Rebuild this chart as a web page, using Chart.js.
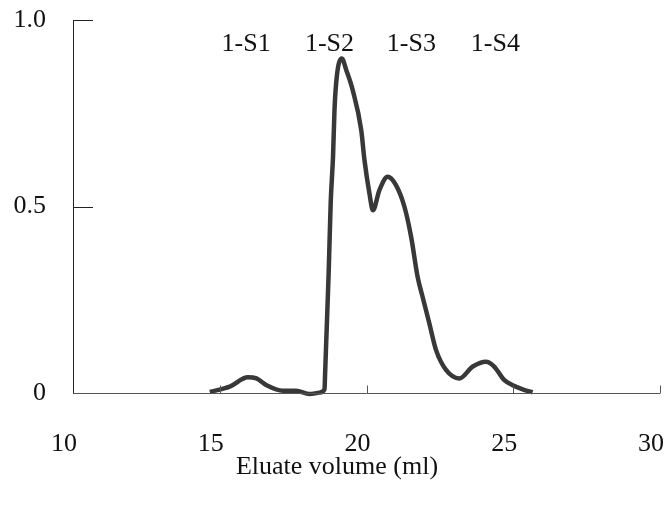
<!DOCTYPE html>
<html>
<head>
<meta charset="utf-8">
<script src="https://cdn.jsdelivr.net/npm/chart.js@4"></script>
<style>
  body { margin: 0; background: #fff; }
  canvas { display: block; }
</style>
</head>
<body>
<canvas id="chart" width="665" height="507"></canvas>
<script>
// Elution profile
const volume = [14.66, 15.34, 15.96, 16.25, 16.59, 17.15, 17.6, 18.06, 18.4, 18.57, 18.59, 18.63, 18.71, 18.78, 18.86, 18.91, 18.99, 19.16, 19.31, 19.53, 19.82, 19.93, 20.1, 20.22, 20.44, 20.72, 21.0, 21.29, 21.52, 21.74, 21.91, 22.14, 22.37, 22.71, 23.16, 23.62, 24.07, 24.35, 24.69, 24.98, 25.32, 25.66];
const absorbance = [0.003, 0.017, 0.042, 0.039, 0.021, 0.006, 0.006, -0.003, 0.001, 0.01, 0.053, 0.142, 0.32, 0.51, 0.635, 0.76, 0.85, 0.897, 0.866, 0.812, 0.705, 0.625, 0.535, 0.49, 0.544, 0.58, 0.558, 0.5, 0.419, 0.312, 0.258, 0.187, 0.115, 0.062, 0.039, 0.071, 0.084, 0.071, 0.035, 0.021, 0.01, 0.002];

const xTicks = [10, 15, 20, 25, 30];
const yTicks = [0, 0.5, 1.0];
const yTickLabels = ["0", "0.5", "1.0"];

const peakNames = ["1-S1", "1-S2", "1-S3", "1-S4"];
const peakX = [15.9, 18.74, 21.53, 24.39];
const peakY = 0.936;

const xTitle = "Eluate volume (ml)";

const FONT = "'Liberation Serif', 'Times New Roman', serif";
const FSIZE = 26;

// inner ticks, peak names and axis title
const extras = {
    id: "extras",
    afterDraw(chart) {
        const ctx = chart.ctx;
        const x = chart.scales.x;
        const y = chart.scales.y;
        const area = chart.chartArea;
        ctx.save();

        // y axis line and inner ticks
        ctx.strokeStyle = "#222";
        ctx.lineWidth = 1;
        ctx.beginPath();
        ctx.moveTo(area.left + 0.5, y.getPixelForValue(1.0));
        ctx.lineTo(area.left + 0.5, y.getPixelForValue(0));
        yTicks.forEach(v => {
            if (v === 0) return;
            const py = Math.round(y.getPixelForValue(v)) + 0.5;
            ctx.moveTo(area.left, py);
            ctx.lineTo(area.left + 20, py);
        });
        ctx.stroke();

        // x axis line and inner ticks
        ctx.strokeStyle = "#555";
        ctx.beginPath();
        const py0 = Math.round(y.getPixelForValue(0)) + 0.5;
        ctx.moveTo(area.left, py0);
        ctx.lineTo(x.getPixelForValue(30), py0);
        xTicks.forEach(v => {
            if (v === 10) return;
            const px = Math.round(x.getPixelForValue(v)) + 0.5;
            ctx.moveTo(px, py0);
            ctx.lineTo(px, py0 - 8);
        });
        ctx.stroke();

        // peak names
        ctx.fillStyle = "#111";
        ctx.font = FSIZE + "px " + FONT;
        ctx.textAlign = "center";
        ctx.textBaseline = "middle";
        peakNames.forEach((name, i) => {
            ctx.fillText(name, x.getPixelForValue(peakX[i]), y.getPixelForValue(peakY));
        });

        // axis title
        ctx.fillText(xTitle, 337, 467);
        ctx.restore();
    }
};

new Chart(document.getElementById("chart"), {
    type: "line",
    data: {
        datasets: [{
            data: volume.map((v, i) => ({ x: v, y: absorbance[i] })),
            borderColor: "#383838",
            borderWidth: 4.5,
            pointRadius: 0,
            fill: false,
            cubicInterpolationMode: "monotone",
            clip: false
        }]
    },
    options: {
        responsive: false,
        animation: false,
        layout: { padding: { top: 20, right: 5, left: 0, bottom: 0 } },
        plugins: {
            legend: { display: false },
            tooltip: { enabled: false }
        },
        scales: {
            x: {
                type: "linear",
                min: 10,
                max: 30,
                afterFit: s => {
                    s.height = 114;
                    s.paddingLeft = 0;
                    s.paddingRight = 0;
                },
                afterBuildTicks: s => { s.ticks = xTicks.map(v => ({ value: v })); },
                grid: { display: false, drawTicks: false },
                border: { display: false },
                ticks: {
                    color: "#111",
                    font: { family: FONT, size: FSIZE },
                    padding: 36,
                    labelOffset: -9,
                    maxRotation: 0,
                    autoSkip: false
                }
            },
            y: {
                type: "linear",
                min: 0,
                max: 1.0,
                afterFit: s => {
                    s.width = 73;
                    s.paddingTop = 0;
                    s.paddingBottom = 0;
                },
                afterBuildTicks: s => { s.ticks = yTicks.map(v => ({ value: v })); },
                grid: { display: false, drawTicks: false },
                border: { display: false },
                ticks: {
                    color: "#111",
                    font: { family: FONT, size: FSIZE },
                    padding: 27,
                    autoSkip: false,
                    callback: (v) => {
                        const i = yTicks.indexOf(v);
                        return i >= 0 ? yTickLabels[i] : "";
                    }
                }
            }
        }
    },
    plugins: [extras]
});
</script>
</body>
</html>
